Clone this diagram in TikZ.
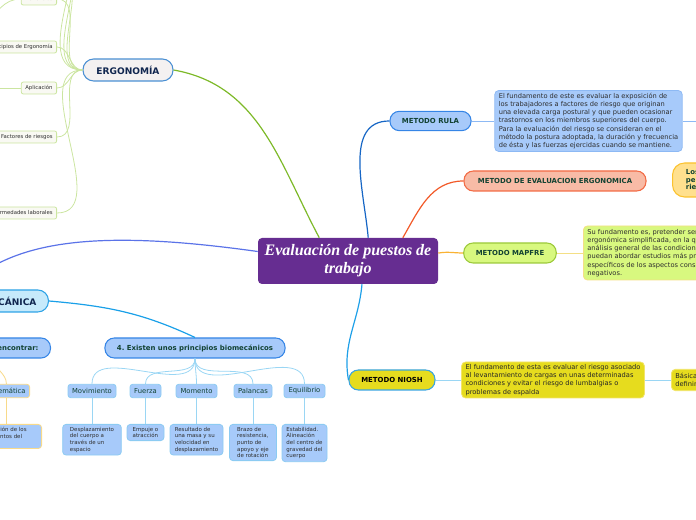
\documentclass[tikz,border=0pt]{standalone}
\usepackage{fontspec}
\setmainfont{DejaVu Sans}
\newfontfamily\hubfont{Liberation Serif}
\usetikzlibrary{positioning}
\frenchspacing

\definecolor{hubpurple}{HTML}{662D91}
\definecolor{ergofill}{HTML}{F4F1F1}
\definecolor{ergoline}{HTML}{4A8FD3}
\definecolor{ergolink}{HTML}{7DB928}
\definecolor{leafline}{HTML}{CBE5A0}
\definecolor{leaffill}{HTML}{F9F9F3}
\definecolor{biofill}{HTML}{C6EAFB}
\definecolor{bioline}{HTML}{2EA3E6}
\definecolor{pillblue}{HTML}{A7CAFA}
\definecolor{pillline}{HTML}{3585E6}
\definecolor{childline}{HTML}{8CCBF2}
\definecolor{kidlink}{HTML}{9AD6F4}
\definecolor{cineline}{HTML}{F8DA8A}
\definecolor{navytext}{HTML}{10264F}
\definecolor{tealtext}{HTML}{124232}
\definecolor{bodytext}{HTML}{2E2E2E}
\definecolor{rulalink}{HTML}{1666C5}
\definecolor{noteblue}{HTML}{8DB9F4}
\definecolor{salmonfill}{HTML}{F8BBA6}
\definecolor{salmonline}{HTML}{F26B45}
\definecolor{evallink}{HTML}{F25A29}
\definecolor{losfill}{HTML}{FFE08E}
\definecolor{losline}{HTML}{FBC22E}
\definecolor{limefill}{HTML}{D8F87F}
\definecolor{limeline}{HTML}{9CC93A}
\definecolor{mapfrelink}{HTML}{F9B233}
\definecolor{mapnote}{HTML}{F4DF85}
\definecolor{nioshfill}{HTML}{E6DC1E}
\definecolor{nioshline}{HTML}{3AA5E0}
\definecolor{nioshlink}{HTML}{1EA0E8}
\definecolor{nioshnote}{HTML}{F2E46A}
\definecolor{biolink}{HTML}{5B73E8}
\definecolor{biokid}{HTML}{1AA0E8}

\begin{document}
\begin{tikzpicture}[x=0.75pt, y=0.75pt,
  hub/.style={rectangle, rounded corners=3pt, fill=hubpurple, text=white,
    font=\hubfont\bfseries\itshape\fontsize{12}{13.5}\selectfont, align=center,
    minimum width=135pt, minimum height=34.5pt, inner sep=1pt},
  topic/.style={rectangle, rounded corners=7pt, draw=pillline, fill=pillblue, line width=0.8pt,
    text=tealtext, inner xsep=9pt, inner ysep=0pt, minimum height=15pt,
    font=\bfseries\fontsize{5.2}{6}\selectfont},
  leaf/.style={rectangle, rounded corners=1.5pt, draw=leafline, fill=leaffill, line width=0.6pt,
    text=bodytext, inner xsep=3pt, inner ysep=0pt, minimum height=9pt,
    font=\fontsize{4}{5}\selectfont},
  kid/.style={rectangle, rounded corners=2pt, draw=childline, fill=pillblue, line width=0.6pt,
    text=tealtext, inner xsep=3pt, inner ysep=0pt, minimum height=10pt,
    font=\fontsize{5.1}{6}\selectfont},
  detail/.style={rectangle, rounded corners=2.5pt, draw=childline, fill=pillblue, line width=0.6pt,
    text=bodytext, align=left, anchor=north, inner sep=2pt,
    font=\fontsize{4.1}{5}\selectfont},
  note/.style={rectangle, rounded corners=3pt, line width=0.6pt, text=bodytext, align=left,
    inner xsep=3pt, inner ysep=1.5pt, font=\fontsize{5}{6.1}\selectfont},
  mainlink/.style={line width=0.9pt},
  sublink/.style={line width=0.6pt}
]
\useasboundingbox (0,0) rectangle (696,520);
\clip (0,0) rectangle (696,520);

% centre
\node[hub] (hub) at (348,259) {Evaluación de puestos de\\trabajo};

% ergonomia
\node[topic, fill=ergofill, draw=ergoline, text=navytext, rounded corners=8pt,
  font=\bfseries\fontsize{6.8}{8}\selectfont, minimum width=67.5pt, minimum height=16.5pt] (ergo) at (128,450) {ERGONOMÍA};
\node[leaf, anchor=east] (benef) at (57,521) {Beneficios};
\node[leaf, anchor=east] (princ) at (57,473) {Principios de Ergonomía};
\node[leaf, anchor=east] (aplic) at (57,432) {Aplicación};
\node[leaf, anchor=east] (factor) at (57,383) {Factores de riesgos};
\node[leaf, anchor=east] (enferm) at (57,307) {Enfermedades laborales};
\coordinate (up1) at (57,548);
\coordinate (up2) at (57,580);
\coordinate (up3) at (57,615);
\coordinate (bl) at (-15,495);
\coordinate (al) at (-30,432);

% biomecanica
\node[topic, fill=biofill, draw=bioline, text=navytext, anchor=east, rounded corners=8pt,
  font=\bfseries\fontsize{6.8}{8}\selectfont, minimum height=16.5pt] (biomec) at (49,219) {BIOMECÁNICA};
\node[topic, anchor=east] (encontrar) at (51,172) {3. Podemos encontrar:};
\node[topic, minimum width=135pt] (princbio) at (195,172) {4. Existen unos principios biomecánicos};

\node[kid, draw=cineline, anchor=east] (cine) at (30,129) {Cinemática};
\node[kid, minimum width=36pt] (mov) at (92,129) {Movimiento};
\node[kid, minimum width=23.25pt] (fue) at (145.5,129) {Fuerza};
\node[kid, minimum width=30.75pt] (mom) at (196.5,129) {Momento};
\node[kid, minimum width=28.5pt] (pal) at (253,129) {Palancas};
\node[kid, minimum width=30.75pt] (equ) at (304.5,129) {Equilibrio};

\node[detail, draw=cineline, anchor=north east, minimum width=60pt] (dcine) at (42,96) {Descripción de los\\movimientos del\\cuerpo};
\node[detail, minimum width=44pt] (d1) at (92,96) {Desplazamiento\\del cuerpo a\\través de un\\espacio};
\node[detail, minimum width=27.75pt] (d2) at (145.5,96) {Empuje o\\atracción};
\node[detail, minimum width=39.75pt] (d3) at (196.5,96) {Resultado de\\una masa y su\\velocidad en\\desplazamiento};
\node[detail, minimum width=35.25pt] (d4) at (253,96) {Brazo de\\resistencia,\\punto de\\apoyo y eje\\de rotación};
\node[detail, minimum width=33.75pt] (d5) at (304.5,96) {Estabilidad.\\Alineación\\del centro de\\gravedad del\\cuerpo};

% metodos
\node[topic, minimum width=59pt, minimum height=14.5pt] (rula) at (430.5,399) {METODO RULA};
\node[note, fill=pillblue, draw=noteblue, minimum width=137pt, minimum height=45.75pt] (rulatxt) at (588.5,399) {El fundamento de este es evaluar la exposición de\\los trabajadores a factores de riesgo que originan\\una elevada carga postural y que pueden ocasionar\\trastornos en los miembros superiores del cuerpo.\\Para la evaluación del riesgo se consideran en el\\método la postura adoptada, la duración y frecuencia\\de ésta y las fuerzas ejercidas cuando se mantiene.};
\coordinate (rr) at (720,399);

\node[topic, fill=salmonfill, draw=salmonline, minimum width=136.5pt] (evalerg) at (555,339) {METODO DE EVALUACION ERGONOMICA};
\node[topic, anchor=west, fill=losfill, draw=losline, rounded corners=9pt, align=left, inner xsep=10pt,
  minimum height=25.5pt, font=\bfseries\fontsize{5.2}{5.5}\selectfont] (los) at (672,340) {Los métodos\\permiten evaluar\\riesgos};

\node[topic, fill=limefill, draw=limeline, minimum width=69pt] (mapfre) at (510,267) {METODO MAPFRE};
\node[note, anchor=west, fill=limefill, draw=mapnote, minimum height=40.5pt] (mapfretxt) at (583,267) {Su fundamento es, pretender ser una herramienta\\ergonómica simplificada, en la que a partir de un\\análisis general de las condiciones de trabajo se\\puedan abordar estudios más profundos y\\específicos de los aspectos considerados\\negativos.};

\node[topic, fill=nioshfill, draw=nioshline, text=black, minimum width=64.5pt] (niosh) at (392,140) {METODO NIOSH};
\node[note, fill=nioshfill, draw=nioshnote, text=black!85, minimum width=136.5pt, minimum height=27pt] (nioshtxt) at (553,140) {El fundamento de esta es evaluar el riesgo asociado\\al levantamiento de cargas en unas determinadas\\condiciones y evitar el riesgo de lumbalgias o\\problemas de espalda};
\node[note, anchor=west, fill=nioshfill, draw=nioshnote, text=black!85, minimum height=16pt] (basica) at (671,140) {Básicamente consiste en\\definir los límites};

% ramas
\draw[mainlink, ergolink] (hub.141) to[out=118, in=-10] (ergo.east);
\draw[mainlink, rulalink] (hub.49) to[out=95, in=180] (rula.west);
\draw[mainlink, evallink] (hub.23) to[out=60, in=180] (evalerg.west);
\draw[mainlink, mapfrelink] (hub.5) to[out=10, in=180] (mapfre.west);
\draw[mainlink, nioshlink] (hub.-59) to[out=-95, in=100] (niosh.west);
\draw[mainlink, biolink] (hub.174) .. controls (90,292) and (0,280) .. (biomec.west);
\draw[mainlink, biokid] (biomec.east) to[out=-5, in=155] (princbio.north);

\foreach \c in {benef, princ, aplic, factor, enferm}
  \draw[sublink, leafline] (ergo.west) to[out=180, in=0] (\c.east);
\foreach \c in {up1, up2, up3}
  \draw[sublink, leafline] (ergo.west) to[out=180, in=0] (\c);
\draw[sublink, leafline] (benef.west) to[out=180, in=45] (bl);
\draw[sublink, leafline] (aplic.west) -- (al);

\draw[sublink, cineline] (encontrar.south) to[out=-90, in=90] (cine.north);
\draw[sublink, cineline] (cine.south) -- (cine.south |- dcine.north);
\foreach \k/\d in {mov/d1, fue/d2, mom/d3, pal/d4, equ/d5} {
  \draw[sublink, kidlink] (princbio.south) to[out=-90, in=90] (\k.north);
  \draw[sublink, kidlink] (\k.south) -- (\d.north);
}

\draw[sublink, noteblue] (rula.east) -- (rulatxt.west);
\draw[sublink, noteblue] (rulatxt.east) -- (rr);
\draw[sublink, mapnote] (mapfre.east) -- (mapfretxt.west);
\draw[sublink, kidlink] (niosh.east) -- (nioshtxt.west);
\draw[sublink, kidlink] (nioshtxt.east) -- (basica.west);
\end{tikzpicture}
\end{document}
